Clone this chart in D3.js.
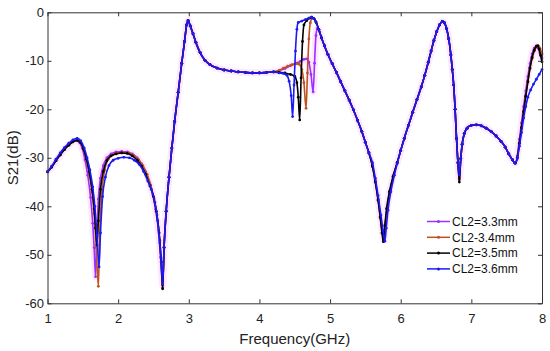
<!DOCTYPE html>
<html><head><meta charset="utf-8">
<script src="https://cdn.jsdelivr.net/npm/d3@7"></script>
<style>body{margin:0;background:#fff;} svg{display:block;font-family:"Liberation Sans",Arial,sans-serif;}</style>
</head><body><svg id="c" width="550" height="351"></svg>
<script>
// ---------------- data (frequency GHz, S21 dB) ----------------
const seriesNames = ["CL2=3.3mm", "CL2-3.4mm", "CL2=3.5mm", "CL2=3.6mm"];
const xTicks = [1, 2, 3, 4, 5, 6, 7, 8];
const yTicks = [0, -10, -20, -30, -40, -50, -60];

// low band (1.0 - 2.63 GHz), per series
const head33 = [[1.00,-32.9],[1.06,-31.9],[1.12,-30.6],[1.18,-29.4],[1.24,-28.3],[1.30,-27.4],[1.36,-26.7],[1.41,-26.4],[1.45,-26.8],[1.49,-28.0],[1.53,-30.4],[1.57,-33.6],[1.61,-38.2],[1.64,-43.5],[1.66,-48.5],[1.68,-54.5],[1.70,-45.5],[1.72,-38.5],[1.75,-34.2],[1.79,-31.6],[1.84,-30.0],[1.90,-29.2],[1.97,-28.8],[2.05,-28.7],[2.13,-28.8],[2.20,-29.2],[2.27,-30.0],[2.33,-31.2],[2.39,-32.9],[2.44,-35.0],[2.49,-37.6],[2.53,-40.6],[2.57,-45.0],[2.60,-50.5],[2.63,-56.3]];
const head34 = [[1.00,-32.9],[1.06,-31.9],[1.12,-30.6],[1.18,-29.4],[1.24,-28.3],[1.30,-27.4],[1.36,-26.7],[1.42,-26.4],[1.47,-26.9],[1.51,-28.3],[1.55,-30.4],[1.59,-33.2],[1.63,-37.0],[1.66,-41.5],[1.69,-48.5],[1.72,-56.5],[1.74,-45.0],[1.77,-37.0],[1.81,-32.5],[1.86,-30.3],[1.92,-29.4],[1.99,-29.0],[2.07,-28.9],[2.15,-29.0],[2.22,-29.5],[2.29,-30.4],[2.35,-31.6],[2.41,-33.4],[2.46,-35.6],[2.51,-38.5],[2.55,-41.8],[2.59,-47.0],[2.61,-51.5],[2.63,-56.8]];
const head35 = [[1.00,-32.9],[1.06,-31.9],[1.12,-30.6],[1.18,-29.4],[1.24,-28.3],[1.30,-27.4],[1.36,-26.7],[1.42,-26.4],[1.47,-26.9],[1.51,-28.2],[1.55,-30.2],[1.59,-32.8],[1.63,-36.5],[1.66,-40.5],[1.68,-44.5],[1.70,-48.0],[1.72,-43.0],[1.75,-36.5],[1.79,-32.8],[1.84,-30.6],[1.90,-29.6],[1.97,-29.2],[2.05,-29.0],[2.13,-29.1],[2.20,-29.6],[2.27,-30.5],[2.33,-31.7],[2.39,-33.4],[2.45,-35.8],[2.50,-38.0],[2.54,-41.0],[2.58,-45.5],[2.61,-51.5],[2.63,-57.0]];
const head36 = [[1.00,-32.9],[1.06,-31.7],[1.12,-30.3],[1.18,-29.0],[1.24,-27.9],[1.30,-27.0],[1.36,-26.3],[1.42,-26.0],[1.47,-26.5],[1.52,-28.0],[1.56,-30.0],[1.60,-32.5],[1.64,-36.0],[1.67,-40.0],[1.70,-46.0],[1.73,-52.5],[1.75,-45.5],[1.78,-38.0],[1.82,-34.0],[1.87,-31.6],[1.93,-30.5],[2.00,-30.1],[2.08,-29.9],[2.16,-30.0],[2.23,-30.5],[2.30,-31.4],[2.36,-32.8],[2.42,-34.8],[2.47,-36.5],[2.52,-39.2],[2.56,-43.0],[2.59,-47.5],[2.61,-51.5],[2.63,-56.0]];

// shared 2.65 - 4.20 GHz
const midShared = [[2.65,-48.5],[2.68,-41.0],[2.72,-34.0],[2.76,-28.0],[2.80,-22.5],[2.85,-16.5],[2.90,-10.5],[2.94,-6.0],[2.97,-2.6],[2.99,-1.7],[3.02,-2.8],[3.06,-4.4],[3.10,-6.2],[3.16,-8.3],[3.23,-9.9],[3.30,-10.8],[3.40,-11.5],[3.50,-11.9],[3.60,-12.1],[3.70,-12.3],[3.80,-12.4],[3.90,-12.5],[4.00,-12.5],[4.10,-12.4],[4.20,-12.3]];

// 4.28 - 4.88 GHz, per series
const band33 = [[4.28,-12.0],[4.36,-11.6],[4.44,-11.0],[4.52,-10.5],[4.58,-10.1],[4.63,-9.7],[4.67,-9.6],[4.70,-10.3],[4.73,-12.8],[4.76,-16.4],[4.78,-10.5],[4.80,-4.8],[4.82,-3.3],[4.85,-4.0],[4.88,-5.3]];
const band34 = [[4.28,-12.0],[4.34,-11.5],[4.40,-11.1],[4.46,-10.8],[4.52,-10.6],[4.56,-10.7],[4.60,-11.8],[4.63,-14.5],[4.66,-19.8],[4.68,-12.5],[4.70,-5.5],[4.72,-2.2],[4.75,-1.2],[4.78,-1.4],[4.81,-2.3],[4.84,-3.5],[4.88,-5.3]];
const band35 = [[4.28,-12.4],[4.36,-12.5],[4.44,-12.8],[4.50,-13.2],[4.53,-14.5],[4.55,-17.5],[4.57,-22.2],[4.59,-13.5],[4.61,-6.0],[4.63,-2.6],[4.67,-1.7],[4.71,-1.2],[4.74,-1.0],[4.77,-1.3],[4.80,-2.0],[4.84,-3.5],[4.88,-5.3]];
const band36 = [[4.28,-12.5],[4.34,-12.6],[4.39,-13.0],[4.42,-14.2],[4.45,-17.2],[4.47,-21.5],[4.49,-15.0],[4.51,-8.0],[4.53,-3.5],[4.55,-2.1],[4.60,-1.8],[4.65,-1.5],[4.70,-1.2],[4.74,-1.0],[4.77,-1.3],[4.80,-2.0],[4.84,-3.5],[4.88,-5.3]];

// shared 4.92 - 5.55 GHz
const tailA = [[4.92,-6.9],[4.97,-8.7],[5.03,-10.6],[5.09,-12.4],[5.15,-14.3],[5.21,-16.2],[5.27,-18.1],[5.33,-20.1],[5.39,-22.3],[5.45,-24.6],[5.50,-26.8],[5.55,-29.0]];
// notch near 5.76 GHz, per series
const notch33 = [[5.60,-31.5],[5.64,-34.7],[5.68,-38.5],[5.71,-42.0],[5.74,-45.3],[5.76,-47.0],[5.78,-43.8],[5.81,-40.0],[5.85,-36.6],[5.90,-33.5],[5.95,-31.0]];
const notch34 = [[5.60,-31.6],[5.64,-34.8],[5.68,-38.6],[5.71,-42.1],[5.74,-45.4],[5.76,-47.2],[5.78,-44.0],[5.81,-40.2],[5.85,-36.8],[5.90,-33.6],[5.95,-31.0]];
const notch35 = [[5.60,-31.8],[5.64,-35.0],[5.68,-38.8],[5.71,-42.3],[5.735,-45.5],[5.755,-47.3],[5.775,-44.0],[5.80,-40.5],[5.84,-37.0],[5.89,-33.9],[5.95,-31.0]];
const notch36 = [[5.60,-31.0],[5.64,-34.2],[5.68,-37.8],[5.72,-41.8],[5.75,-45.0],[5.775,-47.2],[5.795,-44.5],[5.82,-40.8],[5.86,-37.0],[5.91,-33.6],[5.95,-31.2]];
// shared 6.00 - 6.81 GHz
const tailB = [[6.00,-28.5],[6.05,-26.0],[6.11,-23.3],[6.17,-20.6],[6.23,-18.0],[6.29,-15.4],[6.34,-13.0],[6.39,-10.3],[6.43,-8.0],[6.47,-5.8],[6.51,-4.0],[6.55,-2.6],[6.59,-1.9],[6.62,-2.2],[6.65,-3.4],[6.68,-5.5],[6.71,-8.8],[6.73,-11.8],[6.75,-15.0],[6.77,-20.0],[6.79,-26.0],[6.81,-31.0]];
// notch at 6.83 GHz, per series
const dip33 = [[6.83,-34.2]];
const dip34 = [[6.83,-34.5]];
const dip35 = [[6.83,-35.0]];
const dip36 = [[6.83,-33.5]];
// shared 6.85 - 7.62 GHz
const tailC = [[6.85,-30.2],[6.87,-27.2],[6.90,-25.0],[6.94,-23.9],[7.00,-23.3],[7.07,-23.2],[7.14,-23.4],[7.21,-23.9],[7.28,-24.6],[7.35,-25.5],[7.42,-26.6],[7.48,-27.8],[7.53,-29.2],[7.58,-30.4],[7.62,-31.1]];
// top end 7.65 - 8.00 GHz, per series
const end33 = [[7.65,-29.6],[7.68,-26.2],[7.71,-22.8],[7.74,-19.4],[7.77,-16.2],[7.80,-13.2],[7.83,-10.6],[7.86,-8.6],[7.89,-7.4],[7.92,-7.0],[7.94,-7.3],[7.97,-8.4],[8.00,-9.6]];
const end34 = [[7.65,-30.0],[7.68,-27.0],[7.71,-23.8],[7.74,-20.5],[7.77,-17.3],[7.80,-14.3],[7.83,-11.6],[7.86,-9.5],[7.89,-8.0],[7.92,-7.2],[7.95,-7.0],[7.97,-7.4],[8.00,-8.6]];
const end35 = [[7.65,-30.0],[7.68,-27.0],[7.71,-23.8],[7.74,-20.5],[7.77,-17.3],[7.80,-14.3],[7.83,-11.5],[7.86,-9.3],[7.89,-7.8],[7.92,-7.0],[7.94,-6.9],[7.96,-7.6],[7.98,-8.9],[8.00,-10.2]];
const end36 = [[7.65,-30.2],[7.68,-27.6],[7.71,-24.8],[7.74,-21.8],[7.77,-19.4],[7.80,-17.5],[7.84,-16.0],[7.88,-14.8],[7.92,-13.8],[7.96,-12.8],[8.00,-11.8]];

const colors = ["#9b30ff", "#c0501e", "#000000", "#1a1af5"];

const series = [
  head33.concat(midShared, band33, tailA, notch33, tailB, dip33, tailC, end33),
  head34.concat(midShared, band34, tailA, notch34, tailB, dip34, tailC, end34),
  head35.concat(midShared, band35, tailA, notch35, tailB, dip35, tailC, end35),
  head36.concat(midShared, band36, tailA, notch36, tailB, dip36, tailC, end36)
];

// ---------------- layout ----------------
const m = {l: 47.5, r: 542, t: 12.3, b: 303.3};
const x = d3.scaleLinear().domain([1, 8]).range([m.l, m.r]);
const y = d3.scaleLinear().domain([-60, 0]).range([m.b, m.t]);
const svg = d3.select("#c");
const axisCol = "#333";

// curves
const line = d3.line().x(d => x(d[0])).y(d => y(d[1])).curve(d3.curveMonotoneX);
const plot = svg.append("g");
plot.append("path").datum(series[0]).attr("d", line)
  .attr("fill", "none").attr("stroke", "#ff66ff").attr("stroke-opacity", 0.15)
  .attr("stroke-width", 7).attr("stroke-linejoin", "round");
series.forEach((s, i) => {
  plot.append("path").datum(s).attr("d", line)
    .attr("fill", "none").attr("stroke", colors[i]).attr("stroke-width", 1.6)
    .attr("stroke-linejoin", "round");
  plot.append("g").selectAll("circle").data(s).join("circle")
    .attr("cx", d => x(d[0])).attr("cy", d => y(d[1])).attr("r", 1.4)
    .attr("fill", colors[i]);
});

// axes
function style(g) {
  g.select(".domain").attr("stroke", axisCol).attr("stroke-width", 1);
  g.selectAll(".tick line").attr("stroke", axisCol);
  g.selectAll("text").attr("fill", "#222").style("font-size", "13px")
    .style("font-family", '"Liberation Sans", Arial, sans-serif');
}
svg.append("g").attr("transform", `translate(0,${m.b})`)
  .call(d3.axisBottom(x).tickValues(xTicks).tickSizeInner(-4).tickSizeOuter(0).tickPadding(10.5).tickFormat(d => String(d)))
  .call(style);
svg.append("g").attr("transform", `translate(0,${m.t})`)
  .call(d3.axisTop(x).tickValues(xTicks).tickSizeInner(-4).tickSizeOuter(0).tickFormat(""))
  .call(style);
svg.append("g").attr("transform", `translate(${m.l},0)`)
  .call(d3.axisLeft(y).tickValues(yTicks).tickSizeInner(-4).tickSizeOuter(0).tickPadding(3.5).tickFormat(d => String(d)))
  .call(style);
svg.append("g").attr("transform", `translate(${m.r},0)`)
  .call(d3.axisRight(y).tickValues(yTicks).tickSizeInner(-4).tickSizeOuter(0).tickFormat(""))
  .call(style);

// axis titles
svg.append("text").attr("x", (m.l + m.r) / 2).attr("y", 344).attr("text-anchor", "middle")
  .style("font-size", "15px").attr("fill", "#222").text("Frequency(GHz)");
svg.append("text").attr("transform", `translate(17.5,${(m.t + m.b) / 2}) rotate(-90)`)
  .attr("text-anchor", "middle").style("font-size", "15px").attr("fill", "#222").text("S21(dB)");

// legend
const leg = svg.append("g");
seriesNames.forEach((name, i) => {
  const yy = 221.5 + i * 15.8;
  leg.append("line").attr("x1", 427).attr("x2", 450).attr("y1", yy).attr("y2", yy)
    .attr("stroke", colors[i]).attr("stroke-width", 1.5);
  leg.append("circle").attr("cx", 438.5).attr("cy", yy).attr("r", 1.5).attr("fill", colors[i]);
  leg.append("text").attr("x", 452).attr("y", yy).attr("dy", "0.35em")
    .style("font-size", "12px").attr("fill", "#111").text(name);
});
</script>
</body></html>
